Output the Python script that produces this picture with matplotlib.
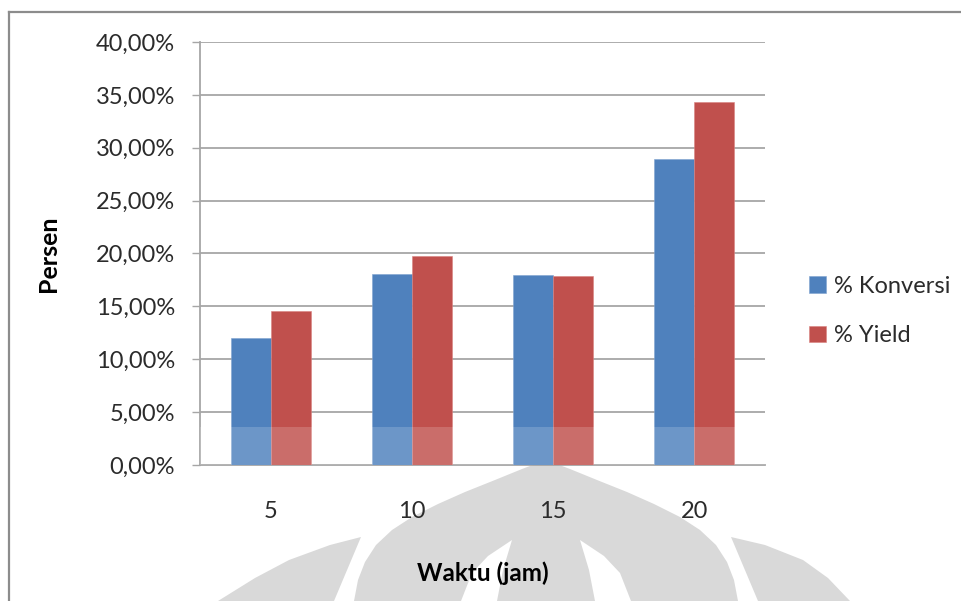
import matplotlib
matplotlib.use("Agg")
import matplotlib.pyplot as plt
from matplotlib.patches import Polygon
from matplotlib.lines import Line2D
import numpy as np

plt.rcParams['font.family'] = ['Lato', 'DejaVu Sans']

# Data
waktu = ["5", "10", "15", "20"]
konversi = [12.0, 18.1, 18.0, 28.9]
yield_pct = [14.55, 19.8, 17.9, 34.35]
y_ticks = [0, 5, 10, 15, 20, 25, 30, 35, 40]

blue = "#4f81bd"
red = "#c0504d"
grid_c = "#a6a6a6"

W, H = 961, 601
fig = plt.figure(figsize=(W / 100, H / 100), dpi=100)
fig.patch.set_facecolor("white")

# Background watermark layer in pixel coordinates
bg = fig.add_axes([0, 0, 1, 1], zorder=0)
bg.set_xlim(0, W)
bg.set_ylim(H, 0)
bg.axis("off")
wm = "#d9d9d9"
cx = 546

def mirror(pts):
    return [(2 * cx - x, y) for x, y in pts]

def mirrored(left_pts):
    right = mirror(reversed(left_pts))
    return left_pts + right[:-1]

outer_left = [(cx, 460), (522, 469), (495, 480), (465, 492), (438, 504),
              (412, 517), (392, 530), (376, 545), (365, 562), (358, 580), (354, 601)]
bg.add_patch(Polygon(mirrored(outer_left), closed=True, fc=wm, ec="none"))
# thin white wedges on both sides of the central pillar
wedge_right = [(580, 540), (604, 556), (620, 573), (631, 601), (595, 601), (589, 570)]
bg.add_patch(Polygon(wedge_right, closed=True, fc="white", ec="none"))
bg.add_patch(Polygon(mirror(wedge_right), closed=True, fc="white", ec="none"))
left_piece = [(361, 537), (330, 545), (289, 560), (255, 578), (218, 601), (334, 601)]
bg.add_patch(Polygon(left_piece, closed=True, fc=wm, ec="none"))
right_piece = [(731, 537), (765, 545), (803, 560), (828, 578), (850, 601), (758, 601)]
bg.add_patch(Polygon(right_piece, closed=True, fc=wm, ec="none"))

# Outer frame lines
fig.add_artist(Line2D([9 / W, 1], [1 - 12 / H, 1 - 12 / H], transform=fig.transFigure,
                      color="#8c8c8c", lw=1.6))
fig.add_artist(Line2D([9 / W, 9 / W], [0, 1 - 12 / H], transform=fig.transFigure,
                      color="#8c8c8c", lw=1.6))

# Main chart
ax = fig.add_axes([200 / W, 1 - 465 / H, 565 / W, 423 / H], zorder=1)
ax.set_facecolor("none")
x = np.arange(len(waktu))
bw = 0.283
ax.bar(x - bw / 2, konversi, bw, color=blue, label="% Konversi", zorder=3,
       edgecolor="#7fa3d0", linewidth=0.4)
ax.bar(x + bw / 2, yield_pct, bw, color=red, label="% Yield", zorder=3,
       edgecolor="#d98280", linewidth=0.4)
# light band across the lower part of the bars
ax.axhspan(0, 3.6, color="white", alpha=0.17, zorder=4, lw=0)

ax.set_xlim(-0.5, len(waktu) - 0.5)
ax.set_ylim(0, 40)
ax.set_yticks(y_ticks)
ax.set_yticklabels([f"{v:.2f}%".replace(".", ",") for v in y_ticks])
ax.set_xticks(x)
ax.set_xticklabels(waktu)
ax.yaxis.grid(True, color=grid_c, lw=1.3, zorder=0)
ax.set_axisbelow(True)
for s in ["top", "right"]:
    ax.spines[s].set_visible(False)
for s in ["left", "bottom"]:
    ax.spines[s].set_color(grid_c)
    ax.spines[s].set_linewidth(1.3)
ax.tick_params(axis="y", length=6, width=1.0, color=grid_c, pad=12,
               labelsize=17, labelcolor="#2b2b2b")
ax.tick_params(axis="x", length=0, pad=26, labelsize=17, labelcolor="#2b2b2b")

ax.set_ylabel("Persen", fontsize=18, fontweight="bold", color="black")
ax.yaxis.set_label_coords(-0.248, 0.5)
ax.set_xlabel("Waktu (jam)", fontsize=17.5, fontweight="bold", color="black")
ax.xaxis.set_label_coords(0.5, -0.229)

fig.legend(loc="center left", bbox_to_anchor=(788 / W, 1 - 311 / H), frameon=False,
           fontsize=17, handlelength=0.7, handleheight=0.7, handletextpad=0.35,
           labelspacing=1.2, labelcolor="#2b2b2b")

fig.savefig("out.png", dpi=100, facecolor="white")
